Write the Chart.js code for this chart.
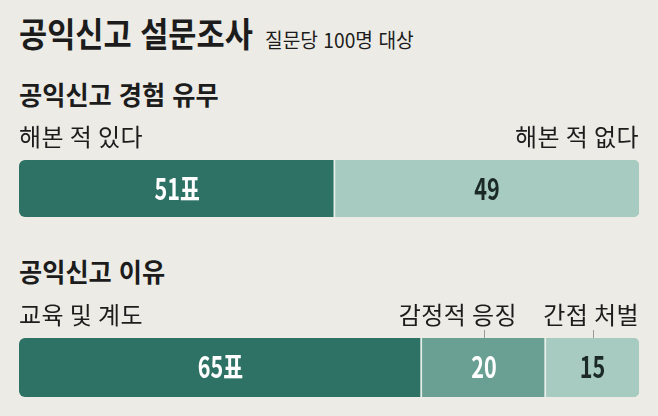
<!DOCTYPE html>
<html lang="ko">
<head>
<meta charset="utf-8">
<script src="https://cdn.jsdelivr.net/npm/chart.js@4.4.1/dist/chart.umd.min.js"></script>
<style>
    html, body { margin: 0; padding: 0; }
    body { width: 658px; height: 416px; background: #ecebe5; position: relative; overflow: hidden; font-family: "Noto Sans CJK KR", "Noto Sans", sans-serif; color: #1c1c1c; }
    .txt { position: absolute; left: 19px; white-space: nowrap; line-height: 1; transform-origin: left top; }
    #title { top: 16px; font-size: 34px; font-weight: 700; transform: scaleX(0.9); }
    #subtitle { left: 265px; top: 30px; font-size: 20px; font-weight: 400; transform: scaleX(0.96); }
    .section { font-size: 26px; font-weight: 700; transform: scaleX(0.97); }
    #sec1 { top: 81px; }
    #sec2 { top: 258px; }
    .chartBox { position: absolute; left: 0; width: 658px; }
    #box1 { top: 115px; height: 105px; }
    #box2 { top: 290px; height: 110px; }
</style>
</head>
<body>
<div id="title" class="txt">공익신고 설문조사</div>
<div id="subtitle" class="txt">질문당 100명 대상</div>
<div id="sec1" class="txt section">공익신고 경험 유무</div>
<div id="sec2" class="txt section">공익신고 이유</div>
<div id="box1" class="chartBox"><canvas id="chart1"></canvas></div>
<div id="box2" class="chartBox"><canvas id="chart2"></canvas></div>

<script>
const experienceLabels = ['해본 적 있다', '해본 적 없다'];
const experienceValues = [51, 49];
const reasonLabels = ['교육 및 계도', '감정적 응징', '간접 처벌'];
const reasonValues = [65, 20, 15];
const unitSuffix = '표';

const greens = ['#2e7265', '#69a093', '#a8cbc1'];

function condensedText(ctx, text, x, y, scaleX, align) {
    ctx.save();
    ctx.translate(x, y);
    ctx.scale(scaleX, 1);
    ctx.textAlign = align;
    ctx.fillText(text, 0, 0);
    ctx.restore();
}

// draws category names above the bar, value labels inside, and small ticks
const barLabelsPlugin = {
    id: 'barLabels',
    afterDatasetsDraw: function(chart) {
        const ctx = chart.ctx;
        const area = chart.chartArea;
        const opts = chart.options.plugins.barLabels;
        const n = chart.data.datasets.length;
        for (let i = 0; i < n; i++) {
            const bar = chart.getDatasetMeta(i).data[0];
            const left = bar.base;
            const right = bar.x;
            const mid = (left + right) / 2;
            const val = chart.data.datasets[i].data[0];

            // value inside bar
            ctx.fillStyle = i === n - 1 ? '#1b2a26' : '#ffffff';
            ctx.font = 'bold 30px "Noto Sans CJK KR"';
            ctx.textBaseline = 'alphabetic';
            ctx.letterSpacing = '0px';
            condensedText(ctx, val + (i === 0 ? unitSuffix : ''), mid, area.top + 40, 0.72, 'center');

            // category name above
            ctx.fillStyle = '#1c1c1c';
            ctx.font = '24px "Noto Sans CJK KR"';
            ctx.letterSpacing = '0.4px';
            let align = 'center';
            let x = mid;
            if (i === 0) { align = 'left'; x = left; }
            else if (i === n - 1) { align = 'right'; x = right; }
            else { align = 'right'; x = right - 29; }
            condensedText(ctx, chart.data.datasets[i].label, x, area.top - 14, 1, align);
            ctx.letterSpacing = '0px';

            if (opts.ticks && i > 0) {
                ctx.strokeStyle = '#9a9a9a';
                ctx.lineWidth = 1;
                ctx.beginPath();
                ctx.moveTo(Math.round(mid) + 0.5, area.top - 8);
                ctx.lineTo(Math.round(mid) + 0.5, area.top);
                ctx.stroke();
            }
        }
    }
};

function makeDatasets(labels, values) {
    const sets = [];
    for (let i = 0; i < values.length; i++) {
        const last = i === values.length - 1;
        sets.push({
            label: labels[i],
            data: [values[i]],
            backgroundColor: values.length === 2 && last ? greens[2] : greens[i],
            borderSkipped: false,
            borderColor: '#e6eee9',
            borderWidth: last ? 0 : { right: 2, left: 0, top: 0, bottom: 0 },
            borderRadius: {
                topLeft: i === 0 ? 6 : 0,
                bottomLeft: i === 0 ? 6 : 0,
                topRight: last ? 6 : 0,
                bottomRight: last ? 6 : 0
            },
            barPercentage: 1,
            categoryPercentage: 1
        });
    }
    return sets;
}

function makeChart(id, labels, values, padTop, padBottom, ticks) {
    return new Chart(document.getElementById(id), {
        type: 'bar',
        data: { labels: [''], datasets: makeDatasets(labels, values) },
        options: {
            indexAxis: 'y',
            responsive: true,
            maintainAspectRatio: false,
            animation: false,
            layout: { padding: { left: 19, right: 19, top: padTop, bottom: padBottom } },
            scales: {
                x: { stacked: true, min: 0, max: 100, display: false },
                y: { stacked: true, display: false }
            },
            plugins: {
                legend: { display: false },
                tooltip: { enabled: false },
                barLabels: { ticks: ticks }
            }
        },
        plugins: [barLabelsPlugin]
    });
}

window.onload = function() {
    makeChart('chart1', experienceLabels, experienceValues, 45, 3, false);
    makeChart('chart2', reasonLabels, reasonValues, 48, 3, true);
};
</script>
</body>
</html>
